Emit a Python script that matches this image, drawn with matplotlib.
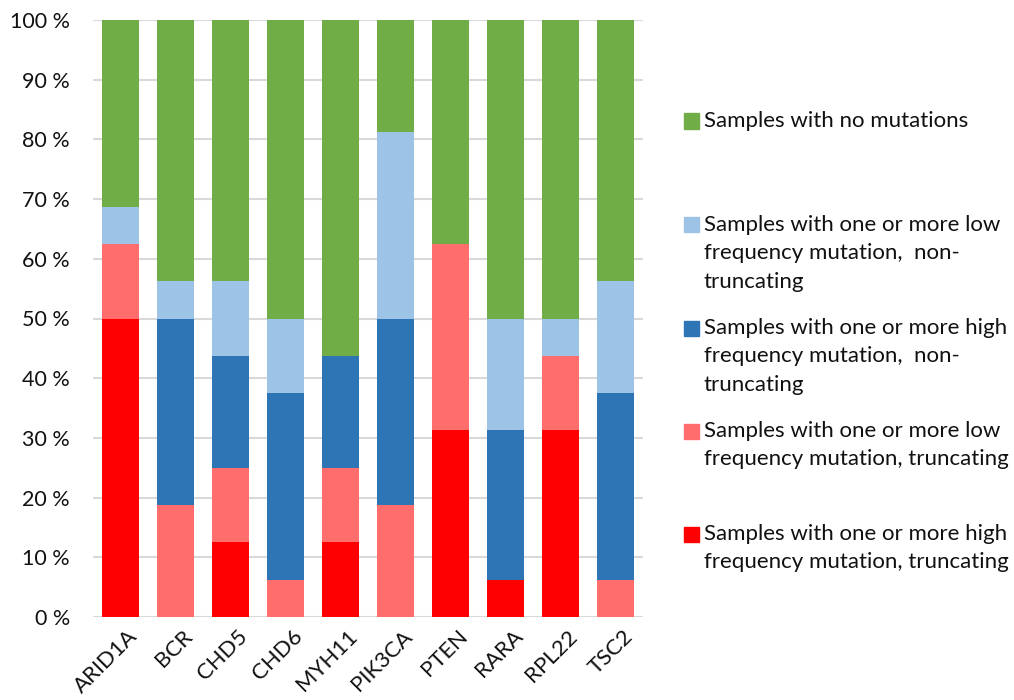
import matplotlib
matplotlib.use("Agg")
import matplotlib.pyplot as plt
import numpy as np
from matplotlib.patches import Rectangle

plt.rcParams['font.family'] = ['Lato', 'DejaVu Sans']

genes = ["ARID1A", "BCR", "CHD5", "CHD6", "MYH11", "PIK3CA", "PTEN", "RARA", "RPL22", "TSC2"]

# percentage of samples per category (stacked bottom to top)
high_trunc = [50.0, 0.0, 12.5, 0.0, 12.5, 0.0, 31.25, 6.25, 31.25, 0.0]
low_trunc = [12.5, 18.75, 12.5, 6.25, 12.5, 18.75, 31.25, 0.0, 12.5, 6.25]
high_nontrunc = [0.0, 31.25, 18.75, 31.25, 18.75, 31.25, 0.0, 25.0, 0.0, 31.25]
low_nontrunc = [6.25, 6.25, 12.5, 12.5, 0.0, 31.25, 0.0, 18.75, 6.25, 18.75]
no_mut = [31.25, 43.75, 43.75, 50.0, 56.25, 18.75, 37.5, 50.0, 50.0, 43.75]

series = [
    (high_trunc, "#FF0000", "Samples with one or more high\nfrequency mutation, truncating"),
    (low_trunc, "#FF6D6D", "Samples with one or more low\nfrequency mutation, truncating"),
    (high_nontrunc, "#2E75B6", "Samples with one or more high\nfrequency mutation,  non-\ntruncating"),
    (low_nontrunc, "#9DC3E6", "Samples with one or more low\nfrequency mutation,  non-\ntruncating"),
    (no_mut, "#70AD47", "Samples with no mutations"),
]

TXT = "#111111"
FS = 16

fig = plt.figure(figsize=(10.14, 7.0), dpi=100)
ax = fig.add_axes([0.0917, 0.1186, 0.5424, 0.8528])

x = np.arange(len(genes))
bottom = np.zeros(len(genes))
for vals, color, _ in series:
    v = np.array(vals)
    ax.bar(x, v, bottom=bottom, width=0.68, color=color, zorder=3)
    bottom += v

ax.set_xlim(-0.5, len(genes) - 0.5)
ax.set_ylim(0, 100)
ax.set_yticks(np.arange(0, 101, 10))
ax.set_yticklabels([f"{t} %" for t in range(0, 101, 10)], fontsize=15.5, color=TXT)
ax.set_xticks(x)
ax.set_xticklabels([])
# rotated gene names, anchored just right of each bar centre
for xi, g in zip(x, genes):
    ax.annotate(g, xy=(xi, 0), xycoords=("data", "axes fraction"),
                xytext=(7, -9), textcoords="offset pixels",
                rotation=45, ha="right", va="top", rotation_mode="anchor",
                fontsize=FS, color=TXT)
ax.tick_params(axis="y", length=0, pad=16.5)
ax.tick_params(axis="x", length=0)
ax.yaxis.grid(True, color="#D9D9D9", linewidth=1.5, zorder=0)
ax.set_axisbelow(True)
for s in ax.spines.values():
    s.set_visible(False)

# legend drawn as swatches plus text, top entry first
W, H = 1014.0, 700.0
legend_rows = [(series[4], 121), (series[3], 225), (series[2], 328), (series[1], 431), (series[0], 534)]
for (vals, color, label), yc in legend_rows:
    fig.patches.append(Rectangle((684 / W, 1 - (yc + 7.5) / H), 15 / W, 15 / H,
                                 transform=fig.transFigure, color=color))
    fig.text(704 / W, 1 - (yc - 10) / H, label, fontsize=FS, color=TXT,
             va="top", ha="left", linespacing=1.52)

fig.savefig("out.png", dpi=100)
